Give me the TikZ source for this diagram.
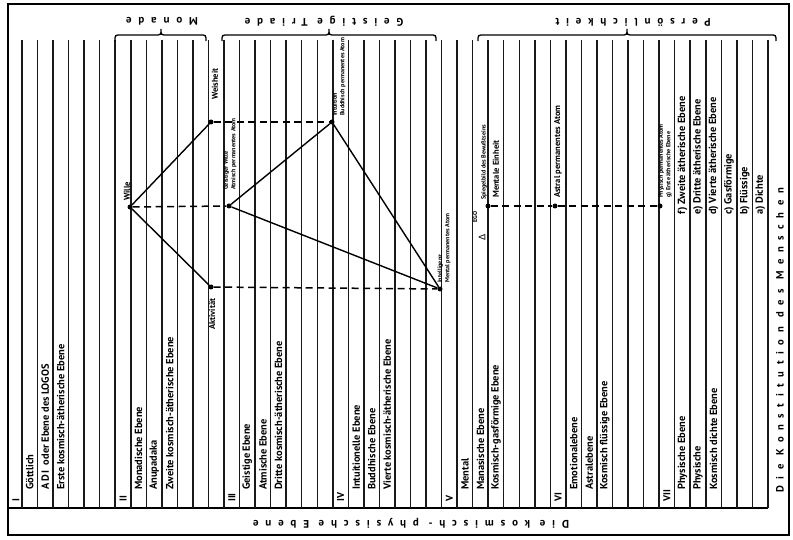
\documentclass[tikz,border=0pt]{standalone}
\usepackage{fontspec}
\setmainfont{PT Sans}
\newfontfamily\spacedfont[LetterSpace=62]{PT Sans}
\newfontfamily\symfont{DejaVu Sans}
\begin{document}
\begin{tikzpicture}[x=1pt,y=-1pt,
  vline/.style={line width=1.5pt, black!90},
  frame/.style={line width=1.8pt},
  tri/.style={line width=1.4pt},
  dashline/.style={line width=1.5pt, dash pattern=on 7pt off 4.5pt},
  dot/.style={circle, fill, inner sep=0pt, minimum size=5pt},
  plane/.style={rotate=90, anchor=west, inner sep=0pt, font=\bfseries\fontsize{10.4}{10.4}\selectfont},
  num/.style={rotate=90, anchor=west, inner sep=0pt, font=\rmfamily\bfseries\fontsize{10}{10}\selectfont},
  small/.style={rotate=90, anchor=west, inner sep=0pt, font=\bfseries\fontsize{6.1}{7.5}\selectfont, align=left},
  ptlabel/.style={rotate=90, anchor=west, inner sep=0pt, font=\bfseries\fontsize{8.5}{8.5}\selectfont},
  head/.style={inner sep=0pt, rotate=180, font=\spacedfont\bfseries\fontsize{11}{11}\selectfont},
  brace/.style={line width=1.3pt},
]
\useasboundingbox (0,0) rectangle (793,540);
\fill[white] (0,0) rectangle (793,540);
% frame
\draw[frame] (8,4) rectangle (789,535);
\draw[frame] (8,508) -- (768,508);
% vertical lines
\foreach \k in {0,...,48} {\draw[vline] ({22+15.54*\k},40) -- ({22+15.54*\k},508);}
% braces
\draw[brace] (115,41) .. controls (115,35) .. (121,35) -- (155,35) .. controls (161,35) .. (161,29) .. controls (161,35) .. (167,35) -- (200,35) .. controls (206,35) .. (206,41);
\draw[brace] (222,41) .. controls (222,35) .. (228,35) -- (323,35) .. controls (329,35) .. (329,29) .. controls (329,35) .. (335,35) -- (430,35) .. controls (436,35) .. (436,41);
\draw[brace] (478,41) .. controls (478,35) .. (484,35) -- (621,35) .. controls (627,35) .. (627,29) .. controls (627,35) .. (633,35) -- (770,35) .. controls (776,35) .. (776,41);
\node[head] (hmon) at (162,21) {Monade};
\node[head] (htri) at (324,21) {Geistige Triade};
\node[head] (hper) at (633,22) {Persönlichkeit};
\node[head] (hkos) at (411,523) {Die kosmisch- physische Ebene};
\node[rotate=90, anchor=west, inner sep=0pt, font=\spacedfont\bfseries\fontsize{10.6}{10.6}\selectfont] (hkon) at (780,493) {Die Konstitution des Menschen};
% plane texts
\node[num] (n1) at (16,502) {I};
\node[plane] (t11) at (29.8,490) {Göttlich};
\node[plane] (t12) at (45.3,490) {A\,D\,I\ \ oder Ebene des LOGOS};
\node[plane] (t13) at (60.8,490) {Erste kosmisch-ätherische Ebene};
\node[num] (n2) at (123,502) {II};
\node[plane] (t21) at (138.6,490) {Monadische Ebene};
\node[plane] (t22) at (154.2,490) {Anupadaka};
\node[plane] (t23) at (169.7,490) {Zweite kosmisch-ätherische Ebene};
\node[num] (n3) at (231.8,502) {III};
\node[plane] (t31) at (247.3,490) {Geistige Ebene};
\node[plane] (t32) at (262.9,490) {Atmische Ebene};
\node[plane] (t33) at (278.4,490) {Dritte kosmisch-ätherische Ebene};
\node[num] (n4) at (340.6,502) {IV};
\node[plane] (t41) at (356.2,490) {Intuitionelle Ebene};
\node[plane] (t42) at (371.7,490) {Buddhische Ebene};
\node[plane] (t43) at (387.3,490) {Vierte kosmisch-ätherische Ebene};
\node[num] (n5) at (449.4,502) {V};
\node[plane] (t51) at (465,490) {Mental};
\node[plane] (t52) at (480.5,490) {Manasische Ebene};
\node[plane] (t53) at (496,490) {Kosmisch-gasförmige Ebene};
\node[num] (n6) at (558.1,502) {VI};
\node[plane] (t61) at (573.7,490) {Emotionalebene};
\node[plane] (t62) at (589.2,490) {Astralebene};
\node[plane] (t63) at (604.8,490) {Kosmisch flüssige Ebene};
\node[num] (n7) at (666.9,502) {VII};
\node[plane] (t71) at (682.5,490) {Physische Ebene};
\node[plane] (t72) at (698,490) {Physische};
\node[plane] (t73) at (713.6,490) {Kosmisch dichte Ebene};
% physical subplanes
\node[plane] (s6) at (682.5,215) {f) Zweite ätherische Ebene};
\node[plane] (s5) at (698,215) {e) Dritte ätherische Ebene};
\node[plane] (s4) at (713.6,215) {d) Vierte ätherische Ebene};
\node[plane] (s3) at (729.1,215) {c) Gasförmige};
\node[plane] (s2) at (744.7,215) {b) Flüssige};
\node[plane] (s1) at (760.2,215) {a) Dichte};
% points
\node[dot] (wille) at (130,207) {};
\node[dot] (weis) at (211,122) {};
\node[dot] (akt) at (211,287) {};
\node[dot] (atma) at (229,206) {};
\node[dot] (budd) at (332,122) {};
\node[dot] (manas) at (440,289) {};
\node[dot] (ego) at (488,206) {};
\node[dot] (astral) at (555,206) {};
\node[dot] (phys) at (660,206) {};
% connectors
\draw[tri] (wille) -- (weis);
\draw[tri] (wille) -- (akt);
\draw[tri] (atma) -- (budd);
\draw[tri] (atma) -- (manas);
\draw[tri] (budd) -- (manas);
\draw[dashline] (wille) -- (atma);
\draw[dashline] (weis) -- (budd);
\draw[dashline] (akt) -- (manas);
\draw[dashline] (ego) -- (astral);
\draw[dashline] (astral) -- (phys);
% point labels
\node[ptlabel] (lwille) at (127,201) {Wille};
\node[ptlabel] (lweis) at (215,100) {Weisheit};
\node[ptlabel] (lakt) at (212,330) {Aktivität};
\node[small] (latma) at (230,190) {Geistiger Wille\\Atmisch permanentes Atom};
\node[small] (lbudd) at (339,116) {Intuition\\Buddhisch permanentes Atom};
\node[small] (lmanas) at (444,283) {Intelligenz\\Mental permanentes Atom};
\node[rotate=90, inner sep=0pt, font=\symfont\fontsize{9}{9}\selectfont] (ldelta) at (482,237) {Δ};
\node[small] (lego) at (475,223) {EGO};
\node[small] (lspieg) at (484,200) {Spiegelbild des Bewußtseins};
\node[ptlabel] (lment) at (496,198) {Mentale Einheit};
\node[ptlabel] (lastr) at (558,198) {Astral permanentes Atom};
\node[small] (lphys) at (665,198) {Physisch permanentes Atom\\g) Erste ätherische Ebene};
\end{tikzpicture}
\end{document}
